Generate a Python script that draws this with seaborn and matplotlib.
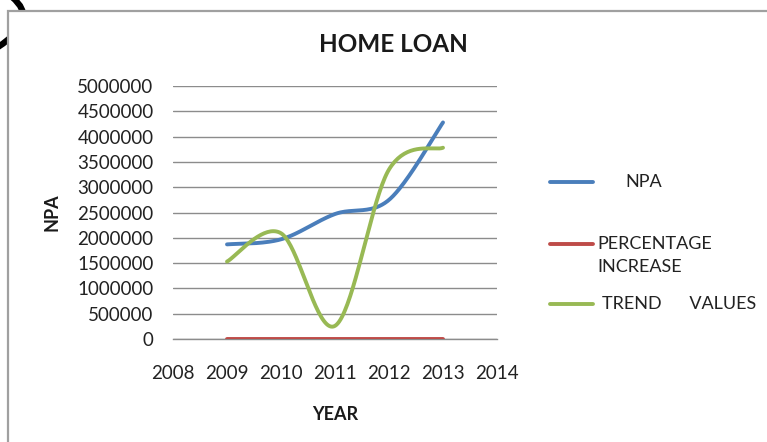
import numpy as np
import pandas as pd
import matplotlib
matplotlib.use("Agg")
import matplotlib.pyplot as plt
import seaborn as sns
from matplotlib.lines import Line2D
from matplotlib.patches import Rectangle, PathPatch
from matplotlib.path import Path

# ---- data -------------------------------------------------------------
years = [2009, 2010, 2011, 2012, 2013]
npa = [1870000, 1970000, 2470000, 2750000, 4280000]
pct_increase = [0, 5.3, 25.4, 11.3, 55.6]
trend_values = [1530000, 2090000, 260000, 3350000, 3780000]

x_ticks = [2008, 2009, 2010, 2011, 2012, 2013, 2014]
y_ticks = [0, 500000, 1000000, 1500000, 2000000, 2500000,
           3000000, 3500000, 4000000, 4500000, 5000000]

series_names = ["NPA", "PERCENTAGE INCREASE", "TREND VALUES"]
legend_lines = [["NPA"], ["PERCENTAGE", "INCREASE"], ["TREND      VALUES"]]
colors = ["#4A7EBB", "#BE4B48", "#98B954"]


def smooth(xs, ys, n=40):
    """Bezier smoothing through every point (spreadsheet-style smoothed line)."""
    pts = np.column_stack([xs, ys]).astype(float)
    ext = np.vstack([pts[0], pts, pts[-1]])
    t = np.linspace(0, 1, n)[:, None]
    out = []
    for i in range(len(pts) - 1):
        p0, p1, p2, p3 = ext[i], ext[i + 1], ext[i + 2], ext[i + 3]
        c1 = p1 + (p2 - p0) / 6
        c2 = p2 - (p3 - p1) / 6
        seg = ((1 - t) ** 3 * p1 + 3 * (1 - t) ** 2 * t * c1
               + 3 * (1 - t) * t ** 2 * c2 + t ** 3 * p2)
        out.append(seg if i == 0 else seg[1:])
    return np.vstack(out)


frames = []
for name, vals in zip(series_names, [npa, pct_increase, trend_values]):
    curve = smooth(years, vals)
    frames.append(pd.DataFrame({"year": curve[:, 0], "value": curve[:, 1],
                                "series": name}))
df = pd.concat(frames, ignore_index=True)

# ---- figure -----------------------------------------------------------
sns.set_theme(style="white")
plt.rcParams["font.family"] = ["Lato", "DejaVu Sans"]

W, H = 767, 442
fig = plt.figure(figsize=(W / 100, H / 100), dpi=100)
fig.patch.set_facecolor("white")


def fx(px):
    return px / W


def fy(py):
    return 1 - py / H


# stray pen stroke at the top-left corner, partly hidden by the chart frame
stroke = Path([(fx(12), fy(-3)), (fx(40), fy(20)), (fx(-2), fy(47))],
              [Path.MOVETO, Path.CURVE3, Path.CURVE3])
fig.patches.append(PathPatch(stroke, transform=fig.transFigure, fill=False,
                             lw=4.5, edgecolor="black", zorder=-3,
                             capstyle="butt"))

# chart frame
fig.patches.append(Rectangle((fx(8), -0.1), 1.2, fy(11) + 0.1,
                             transform=fig.transFigure, facecolor="white",
                             edgecolor="#A0A0A0", lw=1.6, zorder=-2))

ax = fig.add_axes([fx(173), fy(339), fx(497) - fx(173), fy(86) - fy(339)])
ax.set_facecolor("none")

sns.lineplot(data=df, x="year", y="value", hue="series",
             hue_order=series_names, palette=colors, sort=False,
             estimator=None, legend=False, lw=2.8, ax=ax, zorder=3)

ax.set_xlim(2008, 2014)
ax.set_ylim(0, 5000000)
ax.set_xticks(x_ticks)
ax.set_xticklabels([str(v) for v in x_ticks])
ax.set_yticks(y_ticks)
ax.set_yticklabels([str(v) for v in y_ticks])
ax.tick_params(axis="both", length=0, labelsize=13.5, colors="#222222")
ax.tick_params(axis="y", pad=14)
ax.tick_params(axis="x", pad=19)

ax.grid(axis="y", color="#8C8C8C", lw=1)
ax.grid(axis="x", visible=False)
for side in ["top", "right", "left"]:
    ax.spines[side].set_visible(False)
ax.spines["bottom"].set_color("#8C8C8C")
ax.spines["bottom"].set_linewidth(1)

ax.set_xlabel("YEAR", fontsize=13, fontweight="bold", labelpad=17,
              color="#1A1A1A")
ax.set_ylabel("NPA", fontsize=13, fontweight="bold", labelpad=12,
              color="#1A1A1A")

fig.text(fx(393), fy(45), "HOME LOAN", ha="center", va="center",
         fontsize=17.5, fontweight="bold", color="#1A1A1A")

# legend on the right: (line y, text x) per entry, text lines 23 px apart
legend_rows = [(182, 625), (244, 597), (304, 602)]
for (ly, tx), lines, col in zip(legend_rows, legend_lines, colors):
    fig.add_artist(Line2D([fx(550), fx(593)], [fy(ly), fy(ly)],
                          transform=fig.transFigure, color=col, lw=2.8,
                          solid_capstyle="round"))
    for k, txt in enumerate(lines):
        fig.text(fx(tx), fy(ly + 23 * k), txt, ha="left", va="center",
                 fontsize=13, color="#222222", transform=fig.transFigure)

fig.savefig("out.png", dpi=100, facecolor="white")
